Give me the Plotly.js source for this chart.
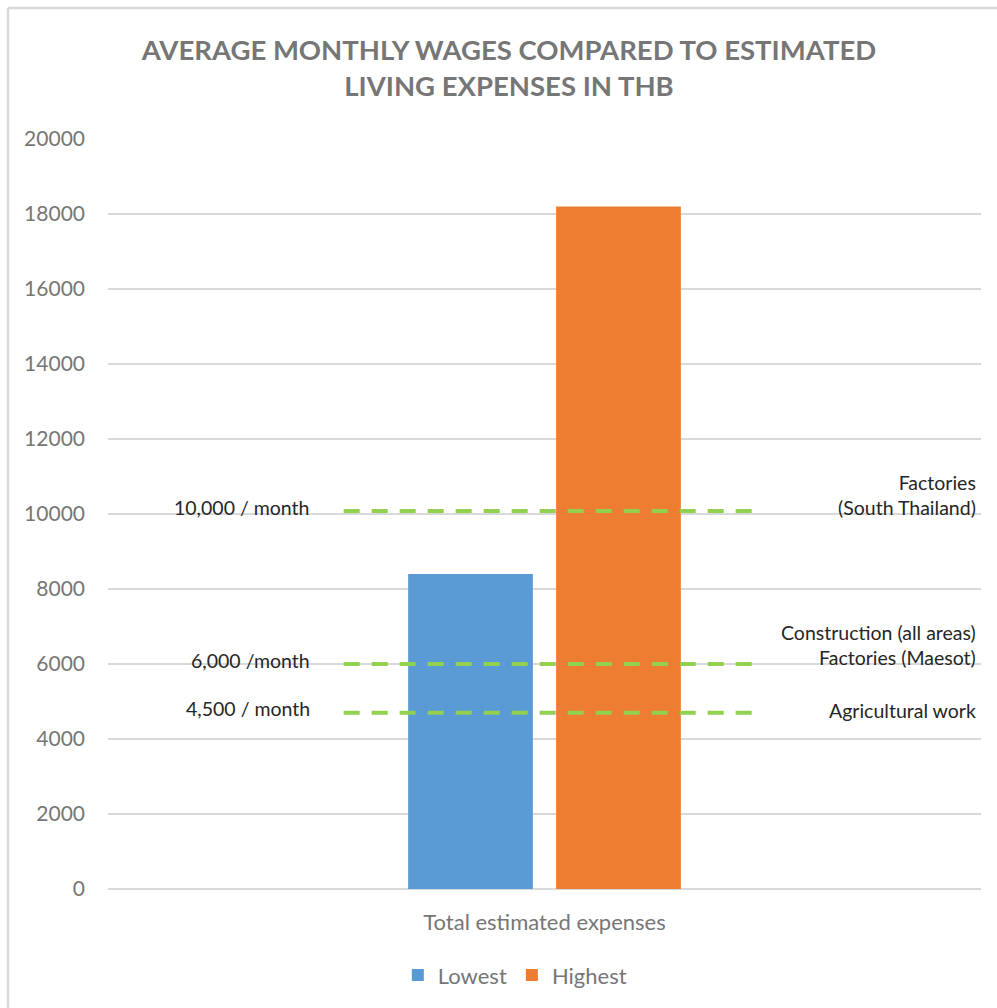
<!DOCTYPE html>
<html>
<head>
<meta charset="utf-8">
<script src="https://cdn.plot.ly/plotly-3.0.1.min.js"></script>
<style>
  html, body { margin: 0; padding: 0; background: #ffffff; }
  #chart { width: 997px; height: 1008px; }
</style>
</head>
<body>
<div id="chart"></div>
<script>
// ---- data ----
const categories = ["Total estimated expenses"];
const seriesNames = ["Lowest", "Highest"];
const lowestValues = [8400];
const highestValues = [18200];
const wageLevels = [10080, 6000, 4700];
const wageLabels = ["10,000 / month", "6,000 /month", "4,500 / month"];
const sectorLabels = ["Factories<br>(South Thailand)", "Construction (all areas)<br>Factories (Maesot)", "Agricultural work"];
const yTicks = [0, 2000, 4000, 6000, 8000, 10000, 12000, 14000, 16000, 18000, 20000];
const chartTitle = "AVERAGE MONTHLY WAGES COMPARED TO ESTIMATED<br>LIVING EXPENSES IN THB";

// ---- styles ----
const FONT = "Lato, 'Open Sans', 'DejaVu Sans', sans-serif";
const GREY = "#767676";
const DARK = "#262626";
const GREEN = "#92D050";
const sectorShift = [16, 19, 2];

const traces = [
  { type: "bar", name: seriesNames[0], x: categories, y: lowestValues,
    marker: { color: "#5B9BD5" }, hoverinfo: "y+name" },
  { type: "bar", name: seriesNames[1], x: categories, y: highestValues,
    marker: { color: "#ED7D31" }, hoverinfo: "y+name" }
];

const shapes = [];
const annotations = [];
wageLevels.forEach((v, i) => {
  shapes.push({
    type: "line", xref: "paper", yref: "y",
    x0: 0.270, x1: 0.738, y0: v, y1: v,
    line: { color: GREEN, width: 4, dash: "16px,12px" }
  });
  annotations.push({
    xref: "paper", yref: "y", x: 0.2337, y: v, yshift: 4,
    xanchor: "right", yanchor: "middle", showarrow: false,
    text: wageLabels[i], font: { family: FONT, size: 19.5, color: DARK }
  });
  annotations.push({
    xref: "paper", yref: "y", x: 0.9966, y: v, yshift: sectorShift[i],
    xanchor: "right", yanchor: "middle", align: "right", showarrow: false,
    text: sectorLabels[i], font: { family: FONT, size: 19.5, color: DARK }
  });
});

// outer chart frame (left and top edges visible)
shapes.push({ type: "line", xref: "paper", yref: "paper",
  x0: -0.1145, x1: 1.02, y0: 1.1746, y1: 1.1746, layer: "below",
  line: { color: "#d9d9d9", width: 2.5 } });
shapes.push({ type: "line", xref: "paper", yref: "paper",
  x0: -0.1145, x1: -0.1145, y0: 1.1746, y1: -0.2, layer: "below",
  line: { color: "#d9d9d9", width: 2.5 } });

const layout = {
  width: 997, height: 1008,
  margin: { l: 108, r: 16, t: 139, b: 116, pad: 0 },
  paper_bgcolor: "#ffffff", plot_bgcolor: "#ffffff",
  font: { family: FONT, color: GREY },
  title: {
    text: chartTitle, x: 0.5105, xanchor: "center", y: 0.940, yanchor: "middle",
    font: { family: FONT, size: 27.5, color: GREY, weight: "bold" }
  },
  barmode: "group", bargap: 0.661, bargroupgap: 0.157,
  xaxis: {
    type: "category", showgrid: false, showline: false, zeroline: false,
    ticks: "", ticklabelstandoff: 18,
    tickfont: { family: FONT, size: 22, color: GREY }
  },
  yaxis: {
    range: [0, 20000], tickvals: yTicks, ticktext: yTicks.map(String),
    showgrid: true, gridcolor: "#d9d9d9", gridwidth: 1.3,
    zeroline: true, zerolinecolor: "#d9d9d9", zerolinewidth: 1.5,
    showline: false, ticks: "", ticklabelstandoff: 22,
    tickfont: { family: FONT, size: 21, color: GREY }
  },
  showlegend: true,
  legend: {
    orientation: "h", x: 0.466, xanchor: "center", y: -0.115, yanchor: "middle",
    font: { family: FONT, size: 22, color: GREY }, traceorder: "normal",
    itemwidth: 30
  },
  shapes: shapes,
  annotations: annotations
};

Plotly.newPlot("chart", traces, layout, { displayModeBar: false, staticPlot: true });
</script>
</body>
</html>
